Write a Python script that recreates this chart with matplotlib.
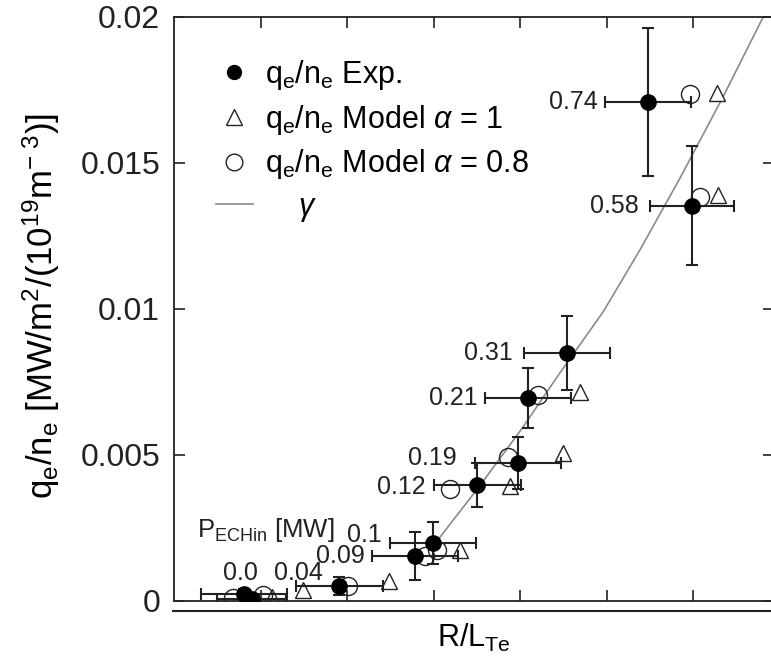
import numpy as np
import matplotlib
matplotlib.use('Agg')
import matplotlib.pyplot as plt
from matplotlib.lines import Line2D

plt.rcParams['font.family'] = ['Liberation Sans', 'DejaVu Sans']
plt.rcParams['mathtext.fontset'] = 'custom'
plt.rcParams['mathtext.rm'] = 'Liberation Sans'
plt.rcParams['mathtext.it'] = 'Liberation Sans:italic'

# experimental points, R/L_Te vs q_e/n_e, labelled with P_ECHin [MW]
exp_power = ['0.0', '0.0', '0.04', '0.09', '0.1', '0.12', '0.19', '0.21', '0.31', '0.58', '0.74']
exp_x = [1.62, 1.80, 3.82, 5.57, 5.99, 7.01, 7.95, 8.18, 9.09, 11.98, 10.96]
exp_y = [0.00024, 0.00007, 0.00051, 0.00154, 0.00199, 0.00397, 0.00473, 0.00695, 0.00849, 0.01353, 0.01709]
exp_xerr = [1.0, 0.8, 1.0, 1.0, 1.0, 1.0, 1.0, 1.0, 1.0, 0.97, 1.0]
exp_yerr = [0.00017, 0.0001, 0.0003, 0.00082, 0.00073, 0.00074, 0.00088, 0.00103, 0.00128, 0.00204, 0.00255]

# model alpha = 1 (triangles)
m1_x = [2.27, 2.98, 4.97, 6.61, 7.77, 8.99, 9.39, 12.58, 12.55]
m1_y = [0.00014, 0.00038, 0.00068, 0.00175, 0.00394, 0.00507, 0.00716, 0.0139, 0.0174]

# model alpha = 0.8 (open circles)
m08_x = [1.36, 2.06, 4.02, 5.80, 6.08, 6.38, 7.72, 8.42, 12.16, 11.93]
m08_y = [0.0001, 0.0002, 0.00051, 0.00154, 0.00175, 0.00384, 0.00493, 0.00705, 0.01384, 0.01736]

# gamma curve
g_x = [5.92, 7.03, 8.05, 8.92, 9.92, 10.77, 11.70, 12.69, 13.62]
g_y = [0.00175, 0.00387, 0.00592, 0.00781, 0.0099, 0.01202, 0.01449, 0.01726, 0.02]

# where the power labels go (right aligned)
lab_txt = ['0.74', '0.58', '0.31', '0.21', '0.19', '0.12', '0.1', '0.09', '0.04', '0.0']
lab_pos = [(9.80, 0.01709), (10.75, 0.01353), (7.83, 0.00849), (7.03, 0.00695),
           (6.54, 0.0049), (5.82, 0.00391), (4.81, 0.00226), (4.42, 0.00154),
           (3.44, 0.00096), (1.94, 0.00096)]

dark = '#222222'

fig = plt.figure(figsize=(7.71, 6.61), dpi=100)
ax = fig.add_axes([174/771, 1-601/661, 600/771, 584/661])

ax.plot(g_x, g_y, color='#8a8a8a', lw=1.2, zorder=1)
ax.plot(m1_x, m1_y, ls='none', marker='^', ms=12, mfc='white', mec=dark, mew=1.0, zorder=2)
ax.plot(m08_x, m08_y, ls='none', marker='o', ms=13, mfc='none', mec=dark, mew=1.0, zorder=3)
ax.errorbar(exp_x, exp_y, xerr=exp_xerr, yerr=exp_yerr, fmt='o', ms=11, color='black',
            ecolor=dark, elinewidth=1.5, capsize=4, capthick=1.5, zorder=4)

for t, (x, y) in zip(lab_txt, lab_pos):
    ax.text(x, y, t, ha='right', va='center', fontsize=18, color=dark)
ax.text(0.53, 0.00243, r'$\mathregular{P_{ECHin}}$ [MW]', ha='left', va='center',
        fontsize=18.5, color=dark)

ax.set_xlim(0, 13.87)
ax.set_ylim(0, 0.02)
ax.set_xticks(np.arange(2, 14, 2))
ax.set_yticks([0, 0.005, 0.01, 0.015, 0.02])
ax.set_yticklabels(['0', '0.005', '0.01', '0.015', '0.02'])
ax.tick_params(direction='in', length=8, width=1.2, top=True, right=True,
               labelbottom=False, labelsize=23, pad=10, colors=dark)
for s in ax.spines.values():
    s.set_linewidth(1.3)
    s.set_color(dark)

ax.set_ylabel(r'$\mathregular{q_e/n_e\ [MW/m^2/(10^{19}m^{-\ 3})]}$', fontsize=25)
ax.yaxis.set_label_coords(-0.187, 0.505)
ax.set_xlabel(r'R/L$\mathregular{_{Te}}$', fontsize=22)
ax.xaxis.set_label_coords(0.5, -0.036)

handles = [
    Line2D([], [], ls='none', marker='o', ms=10, color='black'),
    Line2D([], [], ls='none', marker='^', ms=11, mfc='white', mec=dark, mew=1.0),
    Line2D([], [], ls='none', marker='o', ms=12, mfc='none', mec=dark, mew=1.0),
    Line2D([], [], color='#8a8a8a', lw=1.2),
]
labels = [r'$\mathregular{q_e/n_e}$ Exp.',
          r'$\mathregular{q_e/n_e}$ Model $\alpha$ = 1',
          r'$\mathregular{q_e/n_e}$ Model $\alpha$ = 0.8',
          r'    $\gamma$']
ax.legend(handles, labels, loc='upper left', bbox_to_anchor=(0.07, 0.93),
          frameon=False, fontsize=22, handlelength=1.2, handletextpad=0.4,
          labelspacing=0.35, borderpad=0, borderaxespad=0)

fig.add_artist(Line2D([173/771, 1], [1-611/661, 1-611/661], color=dark, lw=1.5))

fig.savefig('out.png', dpi=100)
